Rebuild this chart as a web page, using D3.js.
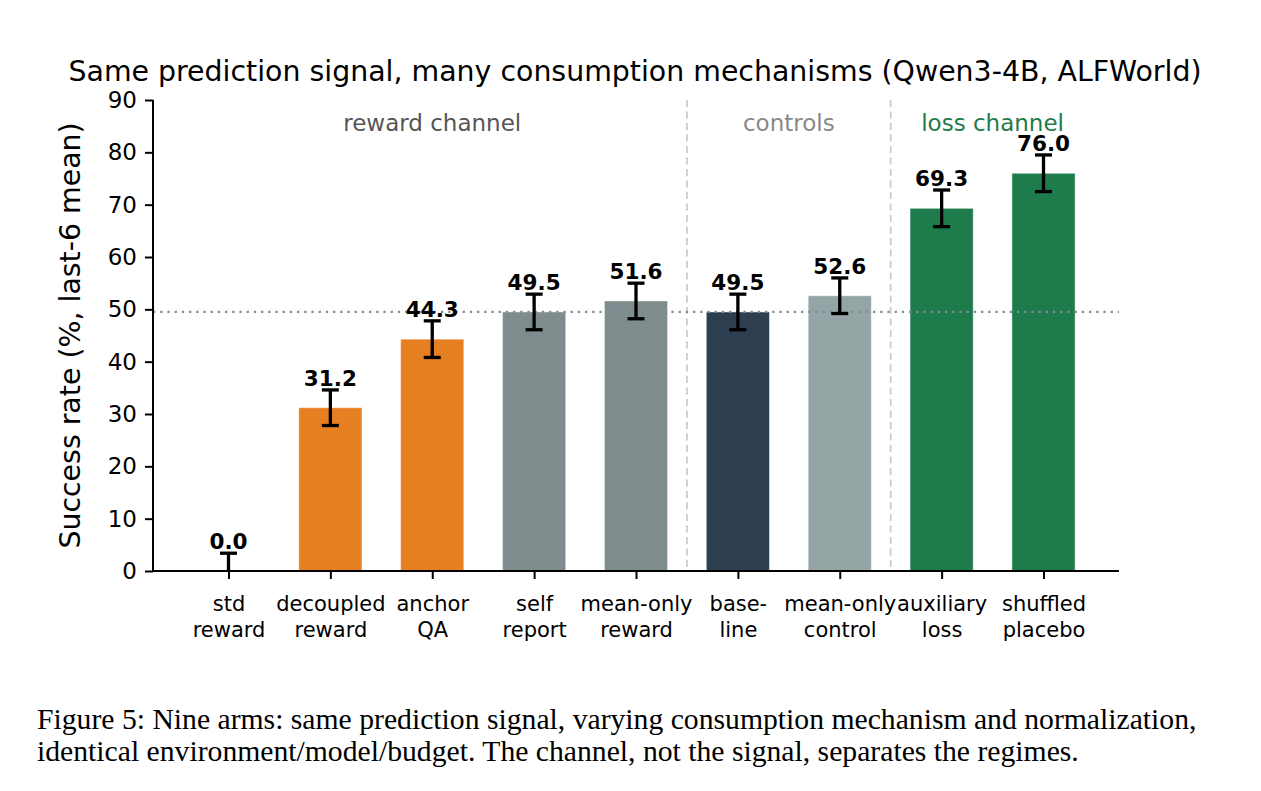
<!DOCTYPE html>
<html>
<head>
<meta charset="utf-8">
<script src="https://cdn.jsdelivr.net/npm/d3@7"></script>
<style>
  body { margin: 0; background: #fff; }
  svg { display: block; }
</style>
</head>
<body>
<script>
// arms, in plotting order
var categories = ["std\nreward", "decoupled\nreward", "anchor\nQA", "self\nreport",
                  "mean-only\nreward", "base-\nline", "mean-only\ncontrol",
                  "auxiliary\nloss", "shuffled\nplacebo"];
var values = [0.0, 31.2, 44.3, 49.5, 51.6, 49.5, 52.6, 69.3, 76.0];
var errors = [3.4, 3.4, 3.5, 3.4, 3.4, 3.4, 3.4, 3.5, 3.5];
var armKind = ["reward", "reward", "reward", "norm", "norm", "base", "control", "loss", "loss"];
var yTicks = [0, 10, 20, 30, 40, 50, 60, 70, 80, 90];
var groupNames = ["reward channel", "controls", "loss channel"];
var groupMid = [2, 5.5, 7.5];
var separators = [4.5, 6.5];
var baselineRef = 49.5;

var kindColor = {
  reward: "#e67e22", norm: "#7f8c8d", base: "#2c3e50",
  control: "#95a5a6", loss: "#1e7b4c"
};
var groupColor = ["#555555", "#888888", "#1e7b4c"];

var W = 1261, H = 791;
var pLeft = 153, pRight = 1119, pTop = 100, pBottom = 571;
var barW = 0.62;

var svg = d3.select("body").append("svg")
  .attr("width", W).attr("height", H);
svg.append("rect").attr("width", W).attr("height", H).attr("fill", "#fff");

var span = categories.length - 1 + barW;
var x = d3.scaleLinear()
  .domain([-barW / 2 - 0.05 * span, categories.length - 1 + barW / 2 + 0.05 * span])
  .range([pLeft, pRight]);
var y = d3.scaleLinear().domain([0, 90]).range([pBottom, pTop]);

svg.append("defs").append("clipPath").attr("id", "plotclip")
  .append("rect").attr("x", pLeft).attr("y", pTop)
  .attr("width", pRight - pLeft).attr("height", pBottom - pTop);

var plot = svg.append("g").attr("clip-path", "url(#plotclip)");

// separators between channels
plot.selectAll("line.sep").data(separators).enter().append("line")
  .attr("class", "sep")
  .attr("x1", function(d) { return x(d); }).attr("x2", function(d) { return x(d); })
  .attr("y1", pTop).attr("y2", pBottom)
  .attr("stroke", "#cccccc").attr("stroke-width", 1.8)
  .attr("stroke-dasharray", "7,4.5");

// bars
plot.selectAll("rect.bar").data(values).enter().append("rect")
  .attr("class", "bar")
  .attr("x", function(d, i) { return x(i - barW / 2); })
  .attr("width", x(barW) - x(0))
  .attr("y", function(d) { return y(d); })
  .attr("height", function(d) { return y(0) - y(d); })
  .attr("fill", function(d, i) { return kindColor[armKind[i]]; })
  .attr("stroke", "#ffffff").attr("stroke-opacity", 0.45).attr("stroke-width", 1);

// baseline reference
plot.append("line")
  .attr("x1", pLeft).attr("x2", pRight)
  .attr("y1", y(baselineRef)).attr("y2", y(baselineRef))
  .attr("stroke", "#7f8c9d").attr("stroke-width", 2.2)
  .attr("stroke-dasharray", "2.3,4.9");

// error bars
var cap = 8.5;
var eb = plot.selectAll("g.err").data(values).enter().append("g").attr("class", "err");
eb.append("line")
  .attr("x1", function(d, i) { return x(i); }).attr("x2", function(d, i) { return x(i); })
  .attr("y1", function(d, i) { return y(d - errors[i]); })
  .attr("y2", function(d, i) { return y(d + errors[i]); })
  .attr("stroke", "#000").attr("stroke-width", 3.3);
[-1, 1].forEach(function(s) {
  eb.append("line")
    .attr("x1", function(d, i) { return x(i) - cap; })
    .attr("x2", function(d, i) { return x(i) + cap; })
    .attr("y1", function(d, i) { return y(d + s * errors[i]); })
    .attr("y2", function(d, i) { return y(d + s * errors[i]); })
    .attr("stroke", "#000").attr("stroke-width", 3.3);
});

// value labels
svg.selectAll("text.val").data(values).enter().append("text")
  .attr("class", "val")
  .attr("x", function(d, i) { return x(i); })
  .attr("y", function(d, i) { return y(d + errors[i]) - 4; })
  .attr("text-anchor", "middle")
  .style("font-family", "DejaVu Sans").style("font-weight", "bold")
  .style("font-size", "21.5px")
  .text(function(d) { return d.toFixed(1); });

// channel labels
svg.selectAll("text.grp").data(groupNames).enter().append("text")
  .attr("class", "grp")
  .attr("x", function(d, i) { return x(groupMid[i]); })
  .attr("y", 131)
  .attr("text-anchor", "middle")
  .style("font-family", "DejaVu Sans").style("font-size", "23px")
  .attr("fill", function(d, i) { return groupColor[i]; })
  .text(function(d) { return d; });

// axes
var yAxis = d3.axisLeft(y).tickValues(yTicks).tickSize(8).tickPadding(8);
var gy = svg.append("g").attr("transform", "translate(" + pLeft + ",0)").call(yAxis);
gy.selectAll("text").style("font-family", "DejaVu Sans").style("font-size", "23px")
  .attr("fill", "#000");

var xAxis = d3.axisBottom(x).tickValues(d3.range(categories.length))
  .tickSize(8).tickPadding(8).tickFormat(function(i) { return categories[i]; });
var gx = svg.append("g").attr("transform", "translate(0," + pBottom + ")").call(xAxis);
gx.selectAll("text").each(function(i) {
  var t = d3.select(this).text(null).attr("dy", null).attr("y", 0);
  categories[i].split("\n").forEach(function(line, k) {
    t.append("tspan").attr("x", 0).attr("y", 40 + k * 25.5).text(line);
  });
}).style("font-family", "DejaVu Sans").style("font-size", "21px").attr("fill", "#000");

[gx, gy].forEach(function(g) {
  g.select(".domain").attr("stroke", "#000").attr("stroke-width", 2);
  g.selectAll(".tick line").attr("stroke", "#000").attr("stroke-width", 2);
});
gx.select(".domain").attr("d", "M" + (pLeft - 1) + ",0H" + pRight);
gy.select(".domain").attr("d", "M0," + (pBottom + 1) + "V" + pTop);

// titles
svg.append("text")
  .attr("x", (pLeft + pRight) / 2 - 1).attr("y", 81)
  .attr("text-anchor", "middle")
  .style("font-family", "DejaVu Sans").style("font-size", "28.4px")
  .text("Same prediction signal, many consumption mechanisms (Qwen3-4B, ALFWorld)");

svg.append("text")
  .attr("transform", "translate(80," + ((pTop + pBottom) / 2) + ") rotate(-90)")
  .attr("text-anchor", "middle")
  .style("font-family", "DejaVu Sans").style("font-size", "28.4px")
  .text("Success rate (%, last-6 mean)");

// caption
var captionLines = [
  "Figure 5: Nine arms: same prediction signal, varying consumption mechanism and normalization,",
  "identical environment/model/budget. The channel, not the signal, separates the regimes."
];
var capText = svg.selectAll("text.cap").data(captionLines).enter().append("text")
  .attr("class", "cap")
  .attr("x", 37)
  .attr("y", function(d, i) { return 729 + i * 32; })
  .style("font-family", "Liberation Serif").style("font-size", "24px")
  .text(function(d) { return d; });
var w0 = capText.node().getComputedTextLength();
capText.style("font-size", (24 * 1160 / w0) + "px");
</script>
</body>
</html>
